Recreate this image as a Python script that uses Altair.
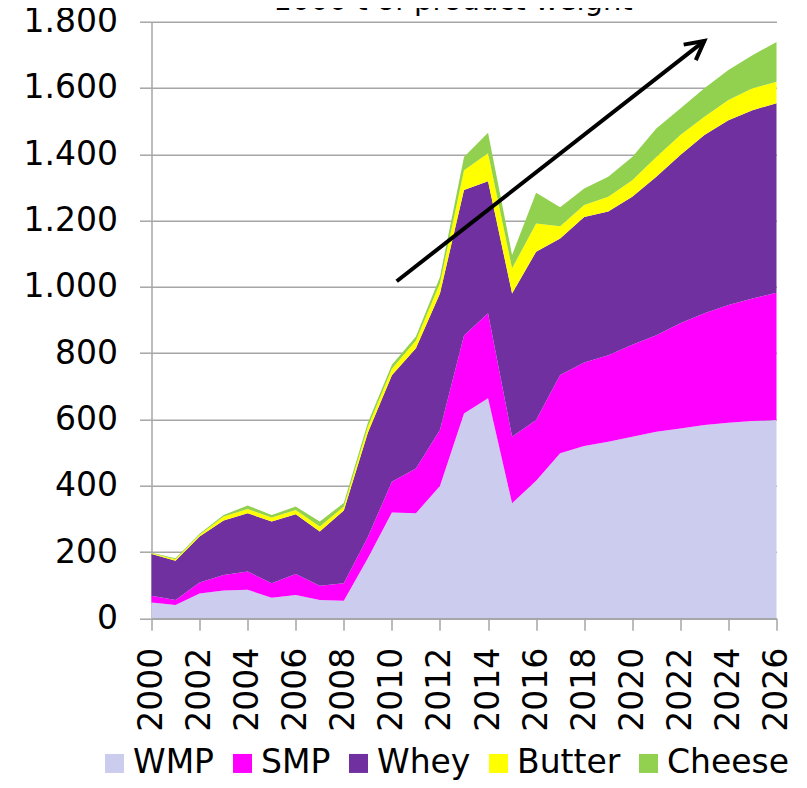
import math
import altair as alt
import pandas as pd

# ---- data (1000 t of product weight) ----
years = list(range(2000, 2027))
wmp = [48, 40, 75, 84, 86, 62, 70, 55, 53, 181, 319, 317, 399, 618, 664, 347, 415, 498, 520, 533, 548, 563, 573, 583, 590, 595, 598]
smp = [20, 15, 33, 47, 55, 44, 64, 43, 53, 64, 93, 135, 169, 235, 256, 201, 183, 236, 252, 261, 277, 291, 317, 337, 355, 370, 384]
whey = [126, 119, 139, 164, 176, 186, 180, 164, 219, 315, 321, 363, 412, 439, 399, 432, 508, 412, 439, 433, 447, 478, 508, 538, 558, 568, 572]
butter = [2, 4, 5, 12, 13, 12, 13, 15, 12, 18, 20, 23, 32, 60, 84, 76, 85, 37, 36, 45, 50, 60, 60, 55, 61, 66, 65]
cheese = [2, 3, 3, 5, 10, 8, 10, 15, 11, 12, 12, 12, 18, 40, 62, 40, 93, 57, 50, 60, 70, 86, 80, 86, 90, 100, 120]

products = ["WMP", "SMP", "Whey", "Butter", "Cheese"]
colors = ["#CCCCEE", "#FF00FF", "#7030A0", "#FFFF00", "#92D050"]
title_text = "1000 t of product weight"

# trend arrow (year, value) start and tip
arrow_x = [2010.2, 2023.0]
arrow_y = [1017, 1742]

series = [wmp, smp, whey, butter, cheese]
rows = []
for i, (name, vals) in enumerate(zip(products, series)):
    for y, v in zip(years, vals):
        rows.append({"year": y, "value": v, "product": name, "idx": i})
df = pd.DataFrame(rows)

W, H = 625, 596.6
X_DOM = [2000, 2026]
Y_DOM = [0, 1800]
FONT = "DejaVu Sans"
GRAY = "#A6A6A6"

xscale = alt.Scale(domain=X_DOM, nice=False, zero=False)
yscale = alt.Scale(domain=Y_DOM, nice=False)

area = alt.Chart(df).mark_area(opacity=1).encode(
    x=alt.X(
        "year:Q",
        scale=xscale,
        axis=alt.Axis(
            values=years,
            labelExpr="datum.value % 2 == 0 ? '' + datum.value : ''",
            labelAngle=-90,
            labelFont=FONT,
            labelFontSize=33,
            labelColor="black",
            labelPadding=17,
            labelFlush=False,
            labelOverlap=False,
            labelBound=False,
            tickSize=12,
            tickColor=GRAY,
            tickWidth=1.5,
            domainColor=GRAY,
            domainWidth=1.5,
            grid=False,
            title=None,
            zindex=1,
        ),
    ),
    y=alt.Y(
        "value:Q",
        stack="zero",
        scale=yscale,
        axis=alt.Axis(
            values=list(range(0, 1801, 200)),
            labelExpr="replace(format(datum.value, ','), ',', '.')",
            labelFont=FONT,
            labelFontSize=33,
            labelColor="black",
            labelPadding=22,
            tickSize=12,
            tickColor=GRAY,
            tickWidth=1.5,
            domainColor=GRAY,
            domainWidth=1.5,
            gridColor=GRAY,
            gridWidth=1.5,
            title=None,
        ),
    ),
    color=alt.Color(
        "product:N",
        scale=alt.Scale(domain=products, range=colors),
        legend=alt.Legend(
            title=None,
            orient="none",
            legendX=-53.5,
            legendY=725,
            direction="horizontal",
            columns=5,
            symbolType="square",
            symbolSize=361,
            symbolStrokeWidth=0,
            symbolOpacity=1,
            labelFont=FONT,
            labelFontSize=33,
            labelColor="black",
            labelOffset=2,
            columnPadding=11,
            padding=0,
            labelLimit=300,
        ),
    ),
    order=alt.Order("idx:Q"),
)

# arrow
adf = pd.DataFrame({"year": arrow_x, "value": arrow_y})
line = alt.Chart(adf).mark_line(color="black", strokeWidth=4, strokeCap="butt").encode(
    x=alt.X("year:Q", scale=xscale),
    y=alt.Y("value:Q", scale=yscale),
)
dx = (arrow_x[1] - arrow_x[0]) * W / (X_DOM[1] - X_DOM[0])
dy = (arrow_y[1] - arrow_y[0]) * H / (Y_DOM[1] - Y_DOM[0])
ang = (360 - math.degrees(math.atan2(dy, dx))) % 360
head = alt.Chart(pd.DataFrame({"year": [arrow_x[1]], "value": [arrow_y[1]]})).mark_point(
    shape="M-1,-0.53L0,0L-1,0.53",
    filled=False,
    stroke="black",
    strokeWidth=4,
    size=1384,
    angle=ang,
    opacity=1,
    strokeJoin="miter",
).encode(
    x=alt.X("year:Q", scale=xscale),
    y=alt.Y("value:Q", scale=yscale),
)

title = alt.Chart(pd.DataFrame({"t": [title_text]})).mark_text(
    font=FONT, fontSize=29, color="black", align="center", baseline="alphabetic"
).encode(text="t:N", x=alt.value(301.5), y=alt.value(-12.2))

chart = (
    alt.layer(area, line, head, title)
    .properties(
        width=W,
        height=H,
        autosize=alt.AutoSizeParams(type="none"),
        padding={"left": 143.5, "top": 13.7, "right": 20, "bottom": 161.7},
    )
    .configure_view(stroke=None)
)

chart.save("out.html", embed_options={"renderer": "svg", "actions": False})
